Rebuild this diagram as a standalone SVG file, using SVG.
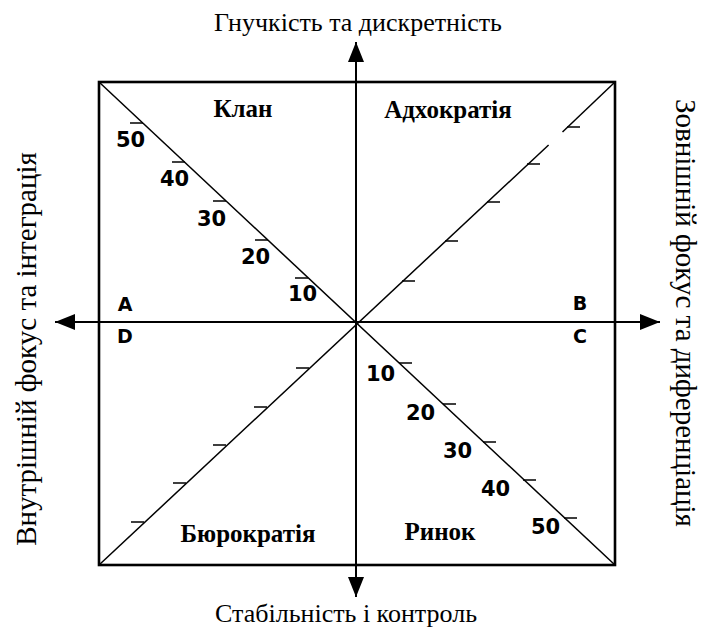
<svg xmlns="http://www.w3.org/2000/svg" width="705" height="627" viewBox="0 0 705 627">
<style>
.frame{fill:none;stroke:#000;stroke-width:2.6}
.axis{fill:none;stroke:#000;stroke-width:2}
.diag{fill:none;stroke:#000;stroke-width:1.5}
.tick{fill:none;stroke:#000;stroke-width:1.6}
.cap{font-family:"Liberation Serif","Times New Roman",serif;font-size:26px;fill:#000}
.vcap{font-family:"Liberation Serif","Times New Roman",serif;font-size:29px;fill:#000}
.quad{font-family:"Liberation Serif","Times New Roman",serif;font-size:25px;font-weight:bold;fill:#000;text-anchor:middle}
.num{font-family:"DejaVu Sans",sans-serif;font-size:21px;font-weight:bold;fill:#000}
.let{font-family:"DejaVu Sans",sans-serif;font-size:19px;font-weight:bold;fill:#000;text-anchor:middle}
</style>
<defs>
<marker id="arr" markerUnits="userSpaceOnUse" markerWidth="20" markerHeight="16" refX="20" refY="8" orient="auto-start-reverse" viewBox="0 0 20 16">
<path d="M0,0 L20,8 L0,16 Z" fill="#000"/>
</marker>
</defs>
<rect x="0" y="0" width="705" height="627" fill="#fff"/>

<g id="frame">
<rect class="frame" x="99" y="82" width="516" height="483"/>
</g>

<g id="connectors">
<line class="axis" x1="55" y1="322" x2="660" y2="322" marker-start="url(#arr)" marker-end="url(#arr)"/>
<line class="axis" x1="356" y1="42" x2="356" y2="597" marker-start="url(#arr)" marker-end="url(#arr)"/>
<line class="diag" x1="99" y1="82" x2="615" y2="565"/>
<line class="diag" x1="99" y1="565" x2="548.6" y2="145"/>
<line class="diag" x1="562.5" y1="132" x2="615" y2="82"/>
</g>

<g id="scale-clan">
<path class="tick" d="M130,123 H143 M172,162 H185 M213,201 H226 M255,240 H268 M295,278 H308"/>
<text class="num" x="116" y="147">50</text>
<text class="num" x="160" y="186">40</text>
<text class="num" x="197" y="226">30</text>
<text class="num" x="241" y="264">20</text>
<text class="num" x="288" y="301">10</text>
</g>

<g id="scale-market">
<path class="tick" d="M399,363 H412 M443,404 H456 M483,442 H496 M523,480 H536 M564,518 H577"/>
<text class="num" x="366" y="381">10</text>
<text class="num" x="406" y="420">20</text>
<text class="num" x="443" y="458">30</text>
<text class="num" x="481" y="496">40</text>
<text class="num" x="531" y="534">50</text>
</g>

<g id="scale-adhocracy">
<path class="tick" d="M567,127 H580 M527,164 H540 M487,202 H500 M445,241 H458 M402,281 H415"/>
</g>

<g id="scale-bureaucracy">
<path class="tick" d="M296,368 H309 M254,407 H267 M213,445 H226 M173,483 H186 M131,522 H144"/>
</g>

<g id="corner-letters">
<text class="let" x="125" y="311">A</text>
<text class="let" x="125" y="343">D</text>
<text class="let" x="580" y="310">B</text>
<text class="let" x="580" y="343">C</text>
</g>

<g id="node-clan"><text class="quad" x="243" y="117">Клан</text></g>
<g id="node-adhocracy"><text class="quad" x="448" y="118">Адхократія</text></g>
<g id="node-bureaucracy"><text class="quad" x="248" y="542">Бюрократія</text></g>
<g id="node-market"><text class="quad" x="440" y="540">Ринок</text></g>

<g id="axis-top"><text class="cap" x="358" y="31" text-anchor="middle">Гнучкість та дискретність</text></g>
<g id="axis-bottom"><text class="cap" x="346" y="622" text-anchor="middle">Стабільність і контроль</text></g>
<g id="axis-left"><text class="vcap" transform="translate(36,349) rotate(-90)" text-anchor="middle">Внутрішній фокус та інтеграція</text></g>
<g id="axis-right"><text class="vcap" transform="translate(676,313) rotate(90)" text-anchor="middle">Зовнішній фокус та диференціація</text></g>
</svg>
